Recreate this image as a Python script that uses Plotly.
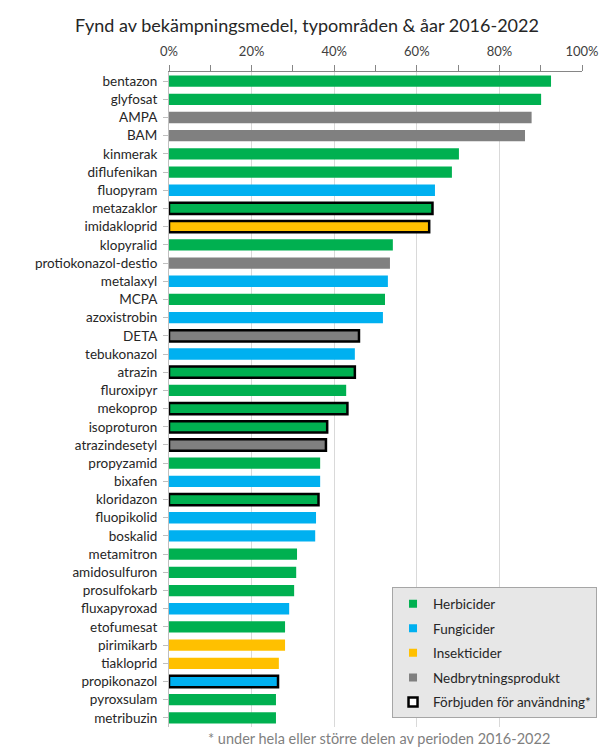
import plotly.graph_objects as go

# substances, top to bottom
substances = [
    "bentazon", "glyfosat", "AMPA", "BAM", "kinmerak", "diflufenikan",
    "fluopyram", "metazaklor", "imidakloprid", "klopyralid",
    "protiokonazol-destio", "metalaxyl", "MCPA", "azoxistrobin", "DETA",
    "tebukonazol", "atrazin", "fluroxipyr", "mekoprop", "isoproturon",
    "atrazindesetyl", "propyzamid", "bixafen", "kloridazon", "fluopikolid",
    "boskalid", "metamitron", "amidosulfuron", "prosulfokarb", "fluxapyroxad",
    "etofumesat", "pirimikarb", "tiakloprid", "propikonazol", "pyroxsulam",
    "metribuzin",
]
# share of samples with findings
share = [
    0.925, 0.901, 0.878, 0.862, 0.702, 0.685,
    0.644, 0.638, 0.630, 0.542,
    0.535, 0.530, 0.523, 0.518, 0.460,
    0.450, 0.450, 0.429, 0.432, 0.383,
    0.380, 0.366, 0.366, 0.362, 0.356,
    0.354, 0.310, 0.308, 0.303, 0.291,
    0.281, 0.281, 0.266, 0.264, 0.259,
    0.259,
]
# H = Herbicider, F = Fungicider, I = Insekticider, N = Nedbrytningsprodukt
group = [
    "H", "H", "N", "N", "H", "H",
    "F", "H", "I", "H",
    "N", "F", "H", "F", "N",
    "F", "H", "H", "H", "H",
    "N", "H", "F", "H", "F",
    "F", "H", "H", "H", "F",
    "H", "I", "I", "F", "H",
    "H",
]
banned = [
    "metazaklor", "imidakloprid", "DETA", "atrazin", "mekoprop",
    "isoproturon", "atrazindesetyl", "kloridazon", "propikonazol",
]

group_names = {"H": "Herbicider", "F": "Fungicider", "I": "Insekticider",
               "N": "Nedbrytningsprodukt"}
colors = {"H": "#00B050", "F": "#00B0F0", "I": "#FFC000", "N": "#808080"}

font = "Lato"

fig = go.Figure()

fig.add_trace(go.Bar(
    x=share, y=substances, orientation="h",
    marker=dict(
        color=[colors[g] for g in group],
        line=dict(color="black",
                  width=[2.5 if s in banned else 0 for s in substances]),
    ),
    showlegend=False,
))

# legend entries
for i, g in enumerate(["H", "F", "I", "N"]):
    fig.add_trace(go.Scatter(
        x=[None], y=[None], mode="markers", name=group_names[g],
        legendgroup=str(i),
        marker=dict(symbol="square", size=8, color=colors[g]),
    ))
fig.add_trace(go.Scatter(
    x=[None], y=[None], mode="markers", name="Förbjuden för användning*",
    legendgroup="9",
    marker=dict(symbol="square", size=9, color="white",
                line=dict(color="black", width=2.5)),
))

fig.update_layout(
    width=614, height=755,
    margin=dict(l=169, r=32, t=72, b=28),
    plot_bgcolor="white", paper_bgcolor="white",
    bargap=0.38,
    font=dict(family=font, color="#262626"),
    title=dict(text="Fynd av bekämpningsmedel, typområden & åar 2016-2022",
               x=0.5, xanchor="center", y=0.966, yanchor="middle",
               font=dict(size=18, color="#262626")),
    xaxis=dict(
        side="top", range=[0, 1], dtick=0.2, tickformat=".0%",
        showgrid=True, gridcolor="#D9D9D9", gridwidth=1,
        showline=True, linecolor="#868686", linewidth=1,
        ticks="outside", ticklen=6, tickcolor="#868686",
        minor=dict(dtick=0.1, ticks="outside", ticklen=6,
                   tickcolor="#868686", showgrid=False),
        tickfont=dict(size=13, color="#404040"),
        ticklabelstandoff=4,
        zeroline=False, fixedrange=True,
    ),
    yaxis=dict(
        autorange="reversed",
        showline=True, linecolor="#BFBFBF", linewidth=1,
        ticks="outside", ticklen=5, tickcolor="#BFBFBF",
        tickfont=dict(size=13.5, color="#262626"),
        ticklabelstandoff=3,
        showgrid=False,
    ),
    legend=dict(
        x=0.54, y=0.213, xanchor="left", yanchor="top",
        bgcolor="#E7E7E7", bordercolor="#A6A6A6", borderwidth=1,
        font=dict(size=13.5, color="#262626"),
        traceorder="grouped", tracegroupgap=4,
        itemwidth=30,
    ),
    annotations=[dict(
        text="* under hela eller större delen av perioden 2016-2022",
        xref="paper", yref="paper", x=0.508, y=-0.017,
        xanchor="center", yanchor="middle", showarrow=False,
        font=dict(size=14.5, color="#7F7F7F"),
    )],
)

fig.write_html("out.html", config={"displayModeBar": False},
               post_script="document.body.style.margin='0';")
